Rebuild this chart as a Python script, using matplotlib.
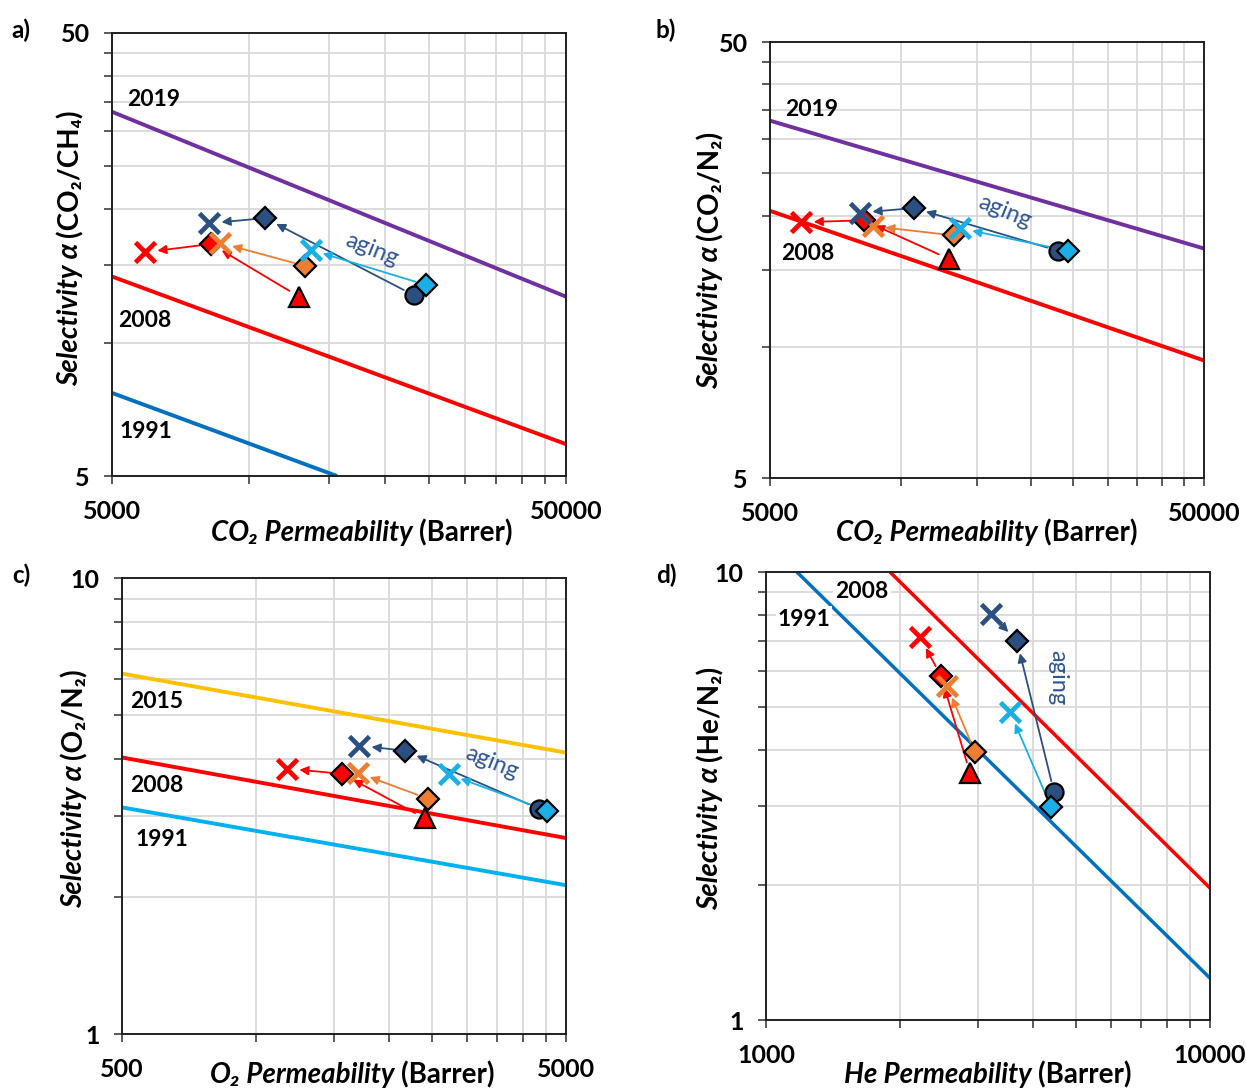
import numpy as np
import matplotlib
matplotlib.use("Agg")
import matplotlib.pyplot as plt
from matplotlib.ticker import FixedLocator, NullFormatter, FixedFormatter

FAM = ['Lato', 'DejaVu Sans']
plt.rcParams['font.family'] = FAM

# ---------------- data ----------------
# Panel a: CO2/CH4
A_NAVY_P = [23100, 10870, 8180];  A_NAVY_S = [12.8, 19.1, 18.6]
A_LBLUE_P = [24580, 13700];       A_LBLUE_S = [13.5, 16.2]
A_ORANGE_P = [13300, 8650];       A_ORANGE_S = [14.9, 16.8]
A_RED_P = [12910, 8260, 5910];    A_RED_S = [12.7, 16.7, 16.0]
A_BOUND_YEARS = ['2019', '2008', '1991']
A_BOUND_P = [[5000, 50000], [5000, 50000], [5000, 15650]]
A_BOUND_S = [[33.2, 12.7], [14.1, 5.9], [7.7, 5.0]]

# Panel b: CO2/N2
B_NAVY_P = [23050, 10730, 8060];  B_NAVY_S = [16.6, 20.8, 20.3]
B_LBLUE_P = [24300, 13700];       B_LBLUE_S = [16.6, 18.7]
B_ORANGE_P = [13280, 8630];       B_ORANGE_S = [18.0, 18.9]
B_RED_P = [12920, 8220, 5900];    B_RED_S = [15.9, 19.5, 19.3]
B_BOUND_YEARS = ['2019', '2008']
B_BOUND_P = [[5000, 50000], [5000, 50000]]
B_BOUND_S = [[33.0, 16.8], [20.5, 9.3]]

# Panel c: O2/N2
C_NAVY_P = [4345, 2170, 1710];    C_NAVY_S = [3.12, 4.18, 4.29]
C_LBLUE_P = [4530, 2725];         C_LBLUE_S = [3.09, 3.71]
C_ORANGE_P = [2445, 1700];        C_ORANGE_S = [3.28, 3.74]
C_RED_P = [2405, 1565, 1176];     C_RED_S = [2.97, 3.72, 3.82]
C_BOUND_YEARS = ['2015', '2008', '1991']
C_BOUND_P = [[500, 5000], [500, 5000], [500, 5000]]
C_BOUND_S = [[6.17, 4.14], [4.04, 2.69], [3.14, 2.12]]

# Panel d: He/N2
D_NAVY_P = [4453, 3675, 3213];    D_NAVY_S = [3.23, 7.01, 8.06]
D_LBLUE_P = [4385, 3544];         D_LBLUE_S = [2.99, 4.87]
D_ORANGE_P = [2956, 2557];        D_ORANGE_S = [3.96, 5.57]
D_RED_P = [2881, 2478, 2222];     D_RED_S = [3.56, 5.86, 7.16]
D_BOUND_YEARS = ['2008', '1991']
D_BOUND_P = [[1902, 10000], [1174, 10000]]
D_BOUND_S = [[10.0, 1.97], [10.0, 1.24]]

# ---------------- styles ----------------
NAVY = '#2B4F81'
LBLUE = '#1AAFE6'
ORANGE = '#ED7D31'
RED = '#FF0000'
BOUND_COLORS = {'2019': '#7030A0', '2008': '#FF0000', '1991': '#0070C0', '2015': '#FFC000'}
C_1991 = '#00B0F0'
GRID = '#D9D9D9'

W, H = 1246, 1088
fig = plt.figure(figsize=(W / 100, H / 100), dpi=100)


def px_axes(l, t, r, b):
    return fig.add_axes([l / W, 1 - b / H, (r - l) / W, (b - t) / H])


def fx(x):
    return x / W


def fy(y):
    return 1 - y / H


def setup(ax, xlo, xhi, ylo, yhi):
    ax.set_xscale('log')
    ax.set_yscale('log')
    ax.set_xlim(xlo, xhi)
    ax.set_ylim(ylo, yhi)
    xminor = [xlo * k for k in range(2, 10)]
    yminor = [ylo * k for k in range(2, 10)]
    ax.xaxis.set_major_locator(FixedLocator([xlo, xhi]))
    ax.yaxis.set_major_locator(FixedLocator([ylo, yhi]))
    ax.xaxis.set_major_formatter(FixedFormatter([str(xlo), str(xhi)]))
    ax.yaxis.set_major_formatter(FixedFormatter([str(ylo), str(yhi)]))
    ax.xaxis.set_minor_locator(FixedLocator(xminor))
    ax.yaxis.set_minor_locator(FixedLocator(yminor))
    ax.xaxis.set_minor_formatter(NullFormatter())
    ax.yaxis.set_minor_formatter(NullFormatter())
    ax.grid(True, which='minor', color=GRID, lw=1.3, zorder=0)
    ax.set_axisbelow(True)
    ax.tick_params(which='both', direction='out', length=6, width=1.2, color='#404040')
    ax.tick_params(axis='x', which='major', pad=11)
    ax.tick_params(axis='y', which='major', pad=10)
    for lab in ax.get_xticklabels() + ax.get_yticklabels():
        lab.set_fontweight('bold')
        lab.set_fontsize(18)
    for s in ax.spines.values():
        s.set_color('#202020')
        s.set_linewidth(1.4)


def draw_bounds(ax, years, P, S, lw=2.8, colors=None):
    for yr, p, s in zip(years, P, S):
        c = BOUND_COLORS[yr] if colors is None or yr not in colors else colors[yr]
        ax.plot(p, s, color=c, lw=lw, solid_capstyle='butt', zorder=2)


def arrow(ax, p0, s0, p1, s1, color):
    ax.annotate('', xy=(p1, s1), xytext=(p0, s0),
                arrowprops=dict(arrowstyle='-|>', color=color, lw=1.3,
                                mutation_scale=13, shrinkA=8, shrinkB=9),
                zorder=3)


def marker(ax, p, s, m, color):
    if m == 'x':
        ax.plot([p], [s], marker='x', ms=14, mew=3.4, color=color, ls='none', zorder=5)
    elif m == 'D':
        ax.plot([p], [s], marker='D', ms=11, mfc=color, mec='black', mew=1.6, ls='none', zorder=5)
    elif m == 'o':
        ax.plot([p], [s], marker='o', ms=13, mfc=color, mec='black', mew=1.6, ls='none', zorder=5)
    elif m == '^':
        ax.plot([p], [s], marker='^', ms=14, mfc=color, mec='black', mew=1.6, ls='none', zorder=5)


def draw_series(ax, P, S, marks, color, reverse=()):
    for i in range(len(P) - 1):
        if i in reverse:
            arrow(ax, P[i + 1], S[i + 1], P[i], S[i], color)
        else:
            arrow(ax, P[i], S[i], P[i + 1], S[i + 1], color)
    for p, s, m in zip(P, S, marks):
        marker(ax, p, s, m, color)


def draw_all(ax, navy, lblue, orange, red, navy_rev=()):
    draw_series(ax, red[0], red[1], ['^', 'D', 'x'], RED)
    draw_series(ax, orange[0], orange[1], ['D', 'x'], ORANGE)
    draw_series(ax, navy[0], navy[1], ['o', 'D', 'x'], NAVY, reverse=navy_rev)
    draw_series(ax, lblue[0], lblue[1], ['D', 'x'], LBLUE)


def year_text(x, y, t, bg=False):
    kw = {}
    if bg:
        kw['bbox'] = dict(facecolor='white', edgecolor='none', pad=1.5)
    fig.text(fx(x), fy(y), t, fontsize=16.5, fontweight='bold', ha='center', va='center', **kw)


def aging(x, y, rot):
    fig.text(fx(x), fy(y), 'aging', fontsize=17, color='#2F5597', ha='center', va='center',
             rotation=rot, rotation_mode='anchor')


renderer = fig.canvas.get_renderer()


def mixed(cx, cy, pieces, rot=0, size=20):
    """pieces: list of (text, style). cx, cy: center in pixels (from top-left)."""
    texts, widths = [], []
    for s, style in pieces:
        t = fig.text(0, 0, s, fontsize=size, fontweight='bold', fontstyle=style,
                     family=FAM, ha='left', va='baseline', rotation_mode='anchor')
        texts.append(t)
        widths.append(t.get_window_extent(renderer).width)
    gap = size * 0.3
    total = sum(widths) + gap * (len(pieces) - 1)
    cap = size * 100 / 72 * 0.36
    if rot == 0:
        cur = cx - total / 2
        for t, w in zip(texts, widths):
            t.set_position((fx(cur), fy(cy + cap)))
            cur += w + gap
    else:
        cur = cy + total / 2
        for t, w in zip(texts, widths):
            t.set_rotation(90)
            t.set_position((fx(cx + cap), fy(cur)))
            cur -= w + gap


# ---------------- panel a ----------------
axa = px_axes(112, 33, 566, 476)
setup(axa, 5000, 50000, 5, 50)
draw_bounds(axa, A_BOUND_YEARS, A_BOUND_P, A_BOUND_S)
draw_all(axa, (A_NAVY_P, A_NAVY_S), (A_LBLUE_P, A_LBLUE_S), (A_ORANGE_P, A_ORANGE_S), (A_RED_P, A_RED_S))
year_text(154, 100, '2019')
year_text(145, 320, '2008')
year_text(146, 432, '1991')
aging(372, 250, -22)

# ---------------- panel b ----------------
axb = px_axes(770, 42, 1204, 478)
setup(axb, 5000, 50000, 5, 50)
draw_bounds(axb, B_BOUND_YEARS, B_BOUND_P, B_BOUND_S)
draw_all(axb, (B_NAVY_P, B_NAVY_S), (B_LBLUE_P, B_LBLUE_S), (B_ORANGE_P, B_ORANGE_S), (B_RED_P, B_RED_S))
year_text(812, 109, '2019')
year_text(808, 253, '2008')
aging(1005, 212, -22)

# ---------------- panel c ----------------
axc = px_axes(122, 578, 566, 1034)
setup(axc, 500, 5000, 1, 10)
draw_bounds(axc, C_BOUND_YEARS, C_BOUND_P, C_BOUND_S, colors={'1991': C_1991})
draw_all(axc, (C_NAVY_P, C_NAVY_S), (C_LBLUE_P, C_LBLUE_S), (C_ORANGE_P, C_ORANGE_S), (C_RED_P, C_RED_S))
year_text(157, 701, '2015')
year_text(157, 786, '2008')
year_text(162, 840, '1991')
aging(492, 763, -22)

# ---------------- panel d ----------------
axd = px_axes(766, 572, 1210, 1020)
setup(axd, 1000, 10000, 1, 10)
draw_bounds(axd, D_BOUND_YEARS, D_BOUND_P, D_BOUND_S, lw=2.5)
draw_all(axd, (D_NAVY_P, D_NAVY_S), (D_LBLUE_P, D_LBLUE_S), (D_ORANGE_P, D_ORANGE_S), (D_RED_P, D_RED_S),
         navy_rev=(1,))
year_text(862, 591, '2008', bg=True)
year_text(804, 619, '1991', bg=True)
aging(1058, 678, -90)

# ---------------- labels ----------------
for x, y, t in [(21, 30, 'a)'), (666, 30, 'b)'), (21, 575, 'c)'), (666, 575, 'd)')]:
    fig.text(fx(x), fy(y), t, fontsize=17.5, fontweight='bold', ha='center', va='center')

mixed(68, 248, [('Selectivity α', 'italic'), ('(CO₂/CH₄)', 'normal')], rot=90)
mixed(708, 260, [('Selectivity α', 'italic'), ('(CO₂/N₂)', 'normal')], rot=90)
mixed(72, 788, [('Selectivity α', 'italic'), ('(O₂/N₂)', 'normal')], rot=90)
mixed(708, 788, [('Selectivity α', 'italic'), ('(He/N₂)', 'normal')], rot=90)

mixed(362, 531, [('CO₂ Permeability', 'italic'), ('(Barrer)', 'normal')])
mixed(987, 531, [('CO₂ Permeability', 'italic'), ('(Barrer)', 'normal')])
mixed(352, 1073, [('O₂ Permeability', 'italic'), ('(Barrer)', 'normal')])
mixed(988, 1073, [('He Permeability', 'italic'), ('(Barrer)', 'normal')])

fig.savefig('out.png', dpi=100, facecolor='white')
